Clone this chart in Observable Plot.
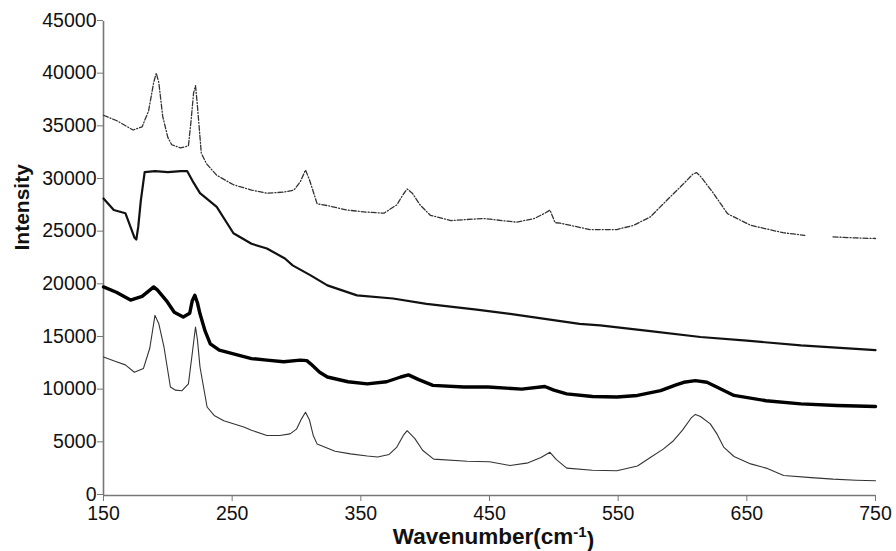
<!DOCTYPE html>
<html><head><meta charset="utf-8">
<script src="https://cdn.jsdelivr.net/npm/d3@7"></script>
<script src="https://cdn.jsdelivr.net/npm/@observablehq/plot@0.6"></script>
<style>body{margin:0;background:#fff;} #chart svg{font-family:"Liberation Sans", Arial, sans-serif;}</style>
</head><body><div id="chart"></div>
<script>
// Series A (top, dotted)
const wnA = [150,160,173,180,185,189,191,193,196,200,203,210,216,218,220,221.5,223,226,230,238,251,265,277,290,298,303,307,310,316,325,339,355,368,378,383,386,390,396,404,420,445,471,485,493,497,501,505,528,549,562,575,588,600,608,611,614,624,635,653,678,695,700,717,735,750];
const intA = [36100,35600,34700,35000,36500,39200,40100,39200,36000,34000,33300,33000,33200,35500,38200,38900,37000,32500,31500,30400,29500,29000,28700,28800,29000,29800,30900,30000,27700,27500,27100,26900,26800,27600,28600,29100,28700,27600,26600,26100,26300,25950,26300,26800,27100,25900,25850,25250,25250,25650,26450,28050,29500,30500,30650,30300,28700,26750,25650,24950,24700,null,24550,24450,24400];
// Series B (second, medium)
const wnB = [150,158,167,171,174,175.5,177,179,182,190,200,210,215,220,225,238,251,265,277,291,297,311,324,347,375,401,440,466,520,536,575,614,650,692,750];
const intB = [28200,27100,26800,25500,24500,24300,25500,28000,30700,30800,30700,30800,30800,29700,28700,27400,24900,23900,23450,22500,21850,20900,19950,19000,18700,18200,17650,17250,16300,16150,15600,15050,14700,14250,13800];
// Series C (third, thick)
const wnC = [150,160,171,180,186,189,192,199.5,205,212,217,219,221,223,225,229,233,240,251,265,277,290,303,308,311,318,324,340,355,370,381,387,395,406,430,449,475,493,500,510,530,549,565,583,595,601,610,619,625,640,665,692,720,750];
const intC = [19800,19300,18550,18900,19500,19800,19500,18400,17400,16950,17300,18500,19000,18300,17250,15600,14400,13800,13450,13000,12850,12700,12850,12800,12500,11700,11250,10800,10600,10800,11250,11450,11000,10450,10300,10300,10100,10350,10000,9650,9400,9350,9500,9950,10500,10750,10900,10750,10400,9500,9000,8700,8550,8450];
// Series D (bottom, thin)
const wnD = [150,160,167,174,181,186,190,193,197,202,206,211,216,219,221.5,223,225,230.5,236,243.5,259,265,277,287,295,300,304,307,310,313,316,330,342,355,363,372,378,383,386,392,398,406.6,432.6,450,466,480,490,497,502,510,530,549,565,575,585,593,600,607,610,614,621.6,627,632,640,653,665,678.6,700,717,735,750];
const intD = [13150,12700,12400,11700,12050,14000,17100,16300,14100,10300,10000,9950,10600,13500,16000,14800,12200,8400,7600,7100,6500,6200,5700,5700,5850,6300,7300,7900,7200,5700,4900,4200,3950,3750,3650,3900,4600,5700,6150,5400,4300,3450,3250,3200,2850,3100,3600,4100,3400,2600,2400,2350,2800,3600,4400,5200,6200,7400,7700,7500,6800,5800,4600,3700,3000,2600,1900,1700,1550,1450,1400];

const xTicks = [150,250,350,450,550,650,750];
const yTicks = [0,5000,10000,15000,20000,25000,30000,35000,40000,45000];

const rows = (wn, vals) => wn.map((w, i) => ({wn: w, v: vals[i]}));
const A = rows(wnA, intA), B = rows(wnB, intB), C = rows(wnC, intC), D = rows(wnD, intD);

const plot = Plot.plot({
  width: 896, height: 551,
  marginLeft: 103, marginRight: 21, marginTop: 21, marginBottom: 56,
  x: {domain: [150, 750]},
  y: {domain: [0, 45000]},
  style: {fontFamily: "Liberation Sans, Arial, sans-serif", fontSize: "19px", color: "#111", background: "#fff"},
  marks: [
    Plot.axisY({ticks: yTicks, tickSize: 6, tickPadding: 1, tickFormat: d => String(d), fontSize: 19.5, label: null, stroke: "#777", fill: "#111", dy: -1}),
    Plot.axisX({ticks: xTicks, tickSize: 6, tickPadding: 5, tickFormat: d => String(d), fontSize: 19.5, label: null, stroke: "#777", fill: "#111"}),
    Plot.ruleX([150], {stroke: "#777", strokeWidth: 1.6}),
    Plot.ruleY([0], {stroke: "#777", strokeWidth: 1.6}),
    Plot.line(A, {x: "wn", y: "v", stroke: "#333", strokeWidth: 1.3, strokeDasharray: "5,2,1,2", curve: "linear"}),
    Plot.line(B, {x: "wn", y: "v", stroke: "#111", strokeWidth: 2.2, curve: "linear"}),
    Plot.line(C, {x: "wn", y: "v", stroke: "#000", strokeWidth: 3.4, curve: "linear"}),
    Plot.line(D, {x: "wn", y: "v", stroke: "#333", strokeWidth: 1.1, curve: "linear"}),
    Plot.text(["Intensity"], {frameAnchor: "left", rotate: -90, dx: -81, dy: -8, fontWeight: "bold", fontSize: 21, fill: "#111"}),
    Plot.text(["Wavenumber(cm-1)"], {frameAnchor: "bottom", lineAnchor: "middle", dy: 41, dx: 4, fontWeight: "bold", fontSize: 22.5, fill: "#111"})
  ]
});
document.getElementById("chart").appendChild(plot);
d3.select(plot).selectAll("text").filter(function() { return this.textContent === "Wavenumber(cm-1)"; })
  .each(function() {
    const t = d3.select(this);
    t.text(null);
    t.append("tspan").text("Wavenumber(cm");
    t.append("tspan").attr("dy", "-0.45em").attr("font-size", 15).text("-1");
    t.append("tspan").attr("dy", "0.45em").text(")");
  });
</script>
</body></html>
